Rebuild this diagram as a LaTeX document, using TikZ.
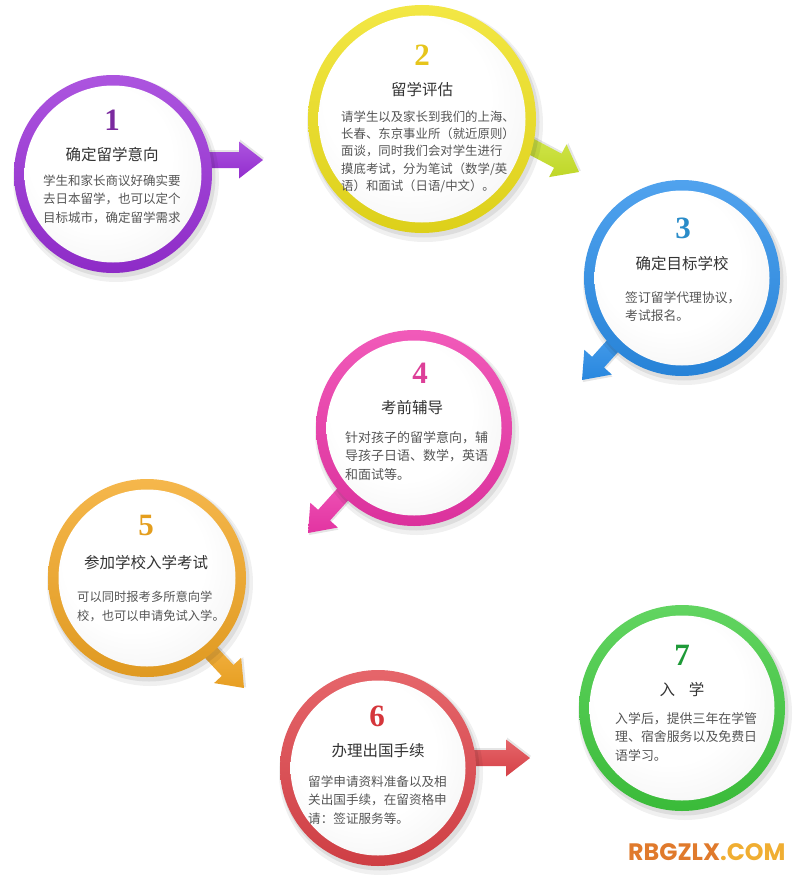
\documentclass[tikz,border=0pt]{standalone}
\usepackage{fontspec}
\newfontfamily\cjk{Noto Sans CJK SC}
\newfontfamily\numfont{Liberation Serif}
\newfontfamily\wmfont{Poppins}
\definecolor{cpurple}{HTML}{9A2FD8}
\definecolor{npurple}{HTML}{7B2A9F}
\definecolor{cyellow}{HTML}{F0E21C}
\definecolor{ayellow}{HTML}{C9E22A}
\definecolor{nyellow}{HTML}{E6C51C}
\definecolor{cblue}{HTML}{2A8EEA}
\definecolor{nblue}{HTML}{2A8CC9}
\definecolor{cpink}{HTML}{EE36AA}
\definecolor{npink}{HTML}{DD3F98}
\definecolor{corange}{HTML}{F3A724}
\definecolor{norange}{HTML}{E49E1E}
\definecolor{cred}{HTML}{E0444A}
\definecolor{nred}{HTML}{D5363B}
\definecolor{cgreen}{HTML}{3FCB3E}
\definecolor{ngreen}{HTML}{1E9A38}
\definecolor{titlegray}{HTML}{333333}
\definecolor{bodygray}{HTML}{555555}
\definecolor{wmorange}{HTML}{E07A2C}
\definecolor{wmyellow}{HTML}{F0AE32}
\pgfdeclareradialshading{diskshade}{\pgfpoint{-6bp}{8bp}}{color(0bp)=(white); color(20bp)=(white); color(42bp)=(black!7); color(52bp)=(black!17)}
\newcommand\ringdisk[4]{% x, y, r, colour
  \fill[black,opacity=0.06] (#1+3,#2+5) circle (#3+4);
  \fill[black,opacity=0.08] (#1+2,#2+3) circle (#3+1.5);
  \shade[top color=#4!82!white, bottom color=#4!92!black] (#1,#2) circle (#3);
  \shade[shading=diskshade] (#1,#2) circle (#3-10.5);
}
\newcommand\flowarrow[5]{% tip x, tip y, angle, colour, shaft length
  \begin{scope}[shift={(#1,#2)}, rotate=#3]
    \fill[black,opacity=0.10] (1,-2) -- (-23,-20.5) -- (-23,-10) -- (-23-#5,-10) -- (-23-#5,6) -- (-23,6) -- (-23,16.5) -- cycle;
    \shade[top color=#4!82!white, bottom color=#4!95!black] (0,0) -- (-24,18.5) -- (-24,8) -- (-24-#5,8) -- (-24-#5,-8) -- (-24,-8) -- (-24,-18.5) -- cycle;
  \end{scope}
}
\tikzset{
  num/.style={font=\numfont\bfseries\fontsize{31}{31}\selectfont, inner sep=0},
  ttl/.style={font=\cjk\fontsize{15.5}{18}\selectfont, text=titlegray, inner sep=0},
  body/.style={font=\cjk\fontsize{12.5}{18.5}\selectfont, text=bodygray, inner sep=0, align=left, anchor=north west}
}
\begin{document}
\begin{tikzpicture}[x=1pt,y=-1pt]
\fill[white] (0,0) rectangle (800,875);
\useasboundingbox (0,0) rectangle (800,875);

% 1
\flowarrow{263}{160}{0}{cpurple}{44}
\ringdisk{113}{174}{99}{cpurple}
\node[num, text=npurple] (n1) at (112,120) {1};
\node[ttl] (t1) at (112,155) {确定留学意向};
\node[body] (b1) at (43,174.4) {学生和家长商议好确实要\\去日本留学，也可以定个\\目标城市，确定留学需求};

% 2
\flowarrow{579}{172}{-28}{ayellow}{50}
\ringdisk{422}{119}{114}{cyellow}
\node[num, text=nyellow] (n2) at (422,55) {2};
\node[ttl] (t2) at (422,90) {留学评估};
\node[body, font=\cjk\fontsize{12.4}{17.3}\selectfont] (b2) at (341,110.5) {请学生以及家长到我们的上海、\\长春、东京事业所（就近原则）\\面谈，同时我们会对学生进行\\摸底考试，分为笔试（数学/英\\语）和面试（日语/中文）。};

% 3
\flowarrow{582}{380}{228}{cblue}{50}
\ringdisk{682}{278}{98}{cblue}
\node[num, text=nblue] (n3) at (683,228) {3};
\node[ttl] (t3) at (682,264) {确定目标学校};
\node[body, font=\cjk\fontsize{12.8}{18}\selectfont] (b3) at (625,291.3) {签订留学代理协议，\\考试报名。};

% 4
\flowarrow{308}{533}{228}{cpink}{50}
\ringdisk{414}{428}{98}{cpink}
\node[num, text=npink] (n4) at (420,373) {4};
\node[ttl] (t4) at (412,408) {考前辅导};
\node[body, font=\cjk\fontsize{13}{18.5}\selectfont] (b4) at (345,431.2) {针对孩子的留学意向，辅\\导孩子日语、数学，英语\\和面试等。};

% 5
\flowarrow{244}{688}{-47}{corange}{50}
\ringdisk{147}{578}{99}{corange}
\node[num, text=norange] (n5) at (146,525) {5};
\node[ttl] (t5) at (146,563) {参加学校入学考试};
\node[body, font=\cjk\fontsize{12.3}{19}\selectfont] (b5) at (77,591.3) {可以同时报考多所意向学\\校，也可以申请免试入学。};

% 6
\flowarrow{530}{758}{0}{cred}{48}
\ringdisk{378}{768}{98}{cred}
\node[num, text=nred] (n6) at (377,716) {6};
\node[ttl] (t6) at (378,751) {办理出国手续};
\node[body, font=\cjk\fontsize{12.6}{18.5}\selectfont] (b6) at (308,775.3) {留学申请资料准备以及相\\关出国手续，在留资格申\\请：签证服务等。};

% 7
\ringdisk{682}{708}{103}{cgreen}
\node[num, text=ngreen] (n7) at (682,655) {7};
\node[ttl] (t7) at (682,690) {入\hspace{0.9em}学};
\node[body, font=\cjk\fontsize{12.9}{18.5}\selectfont] (b7) at (615,712.2) {入学后，提供三年在学管\\理、宿舍服务以及免费日\\语学习。};

% watermark
\node[font=\wmfont\bfseries\fontsize{23.8}{23.8}\selectfont, inner sep=0, anchor=west] (wm) at (628,852) {\textcolor{wmorange}{RBGZLX}\textcolor{wmyellow}{.COM}};
\end{tikzpicture}
\end{document}
